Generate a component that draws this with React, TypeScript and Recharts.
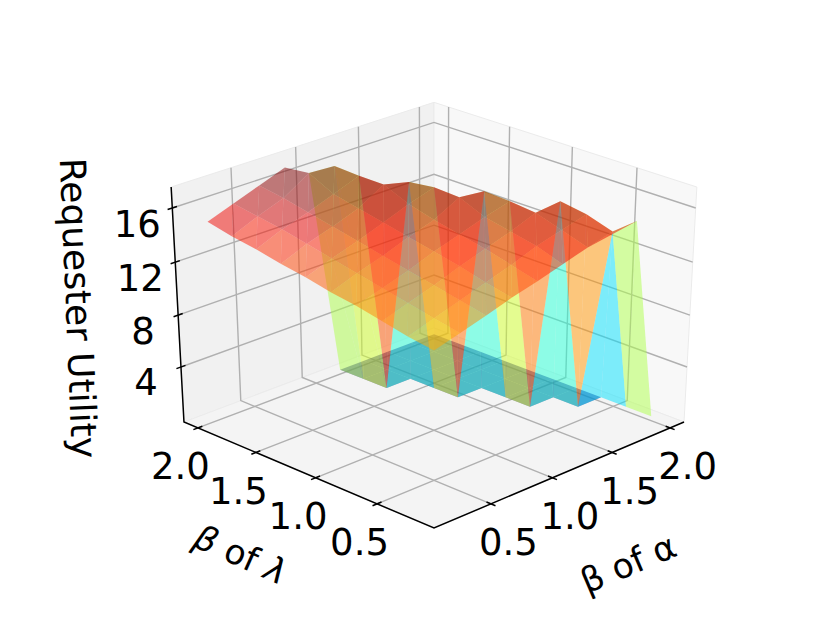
import React from 'react';
import { ScatterChart, Scatter, XAxis, YAxis } from 'recharts';

const WIDTH = 830;
const HEIGHT = 623;

const alphaValues = [0.2, 0.4, 0.6, 0.8, 1.0, 1.2, 1.4, 1.6, 1.8, 2.0];
const lambdaValues = [2.0, 1.8, 1.6, 1.4, 1.2, 1.0, 0.8, 0.6, 0.4, 0.2];
// rows follow lambdaValues, columns follow alphaValues
const utility: (number | null)[][] = [
  [14.9, 15.6, 16.3, 17.0, null, 0, 0, 0, 0, 0],
  [14.5, 15.3, 16.0, 17.2, 17.1, 0, 0, 0, 0, 0],
  [14.2, 15.0, 15.6, 16.3, 17.0, 0, 0, 0, 0, 0],
  [13.8, 14.6, 15.2, 15.9, 17.0, 16.55, 0, 0, 0, 0],
  [13.5, 14.2, 14.8, 15.5, 16.2, 16.8, 0, 0, 0, 0],
  [13.1, 13.8, 14.4, 15.1, 15.7, 16.7, 16.5, 0, 0, 0],
  [12.8, 13.4, 14.0, 14.7, 15.3, 15.9, 16.4, 0, 0, 0],
  [12.4, 13.0, 13.6, 14.3, 14.9, 15.5, 16.2, 16.4, 0, 0],
  [12.0, 12.6, 13.2, 13.8, 14.4, 15.1, 15.6, 16.1, null, 0],
  [11.7, 12.25, 12.8, 13.4, 13.9, 14.45, 15.0, 15.5, 15.6, 0],
];
// triangles joining the raised sheet to the low sheet: three [alpha, lambda] corners, then the shade value
type Corner = [number, number];
const bridges: [Corner, Corner, Corner, number][] = [
  [[0.8, 1.8], [1.2, 2.0], [1.2, 1.8], 9.6],
  [[0.8, 1.8], [1.0, 1.8], [1.2, 1.8], 9.6],
  [[1.0, 1.8], [1.2, 1.8], [1.2, 1.6], 10.3],
  [[1.0, 1.8], [1.0, 1.6], [1.2, 1.6], 10.3],
  [[1.0, 1.6], [1.0, 1.4], [1.2, 1.6], 14.0],
  [[1.0, 1.4], [1.2, 1.4], [1.2, 1.6], 14.0],
  [[1.2, 1.4], [1.2, 1.6], [1.4, 1.6], 6.7],
  [[1.2, 1.4], [1.4, 1.6], [1.4, 1.4], 6.7],
  [[1.2, 1.4], [1.2, 1.2], [1.4, 1.4], 10.3],
  [[1.2, 1.2], [1.4, 1.4], [1.4, 1.2], 10.3],
  [[1.2, 1.2], [1.2, 1.0], [1.4, 1.2], 13.6],
  [[1.2, 1.0], [1.4, 1.0], [1.4, 1.2], 13.6],
  [[1.4, 1.0], [1.4, 1.2], [1.6, 1.2], 6.7],
  [[1.4, 1.0], [1.6, 1.2], [1.6, 1.0], 6.7],
  [[1.4, 1.0], [1.4, 0.8], [1.6, 1.0], 10.3],
  [[1.4, 0.8], [1.6, 1.0], [1.6, 0.8], 10.3],
  [[1.4, 0.8], [1.4, 0.6], [1.6, 0.8], 13.4],
  [[1.4, 0.6], [1.6, 0.6], [1.6, 0.8], 13.4],
  [[1.6, 0.6], [1.6, 0.8], [1.8, 0.8], 6.7],
  [[1.6, 0.6], [1.8, 0.8], [1.8, 0.6], 6.7],
  [[1.6, 0.6], [1.6, 0.4], [1.8, 0.6], 12.9],
  [[1.6, 0.4], [1.6, 0.2], [1.8, 0.6], 12.9],
  [[1.6, 0.2], [1.8, 0.6], [2.0, 0.6], 5.9],
  [[1.6, 0.2], [2.0, 0.6], [2.0, 0.4], 5.9],
  [[1.6, 0.2], [1.8, 0.2], [2.0, 0.4], 9.6],
  [[1.8, 0.2], [2.0, 0.4], [2.0, 0.2], 9.6],
  [[1.4, 0.2], [1.6, 0.2], [1.8, 0.2], 15.5],
];

const planarTicks = [0.5, 1.0, 1.5, 2.0];
const utilityTicks = [4, 8, 12, 16];

const AXIS_LO = 0.05;
const AXIS_HI = 2.122;
const Z_LO = -0.346;
const Z_HI = 17.524;
const SHADE_MAX = 17.1;
const SURFACE_SHADE_MAX = 16.6;

const norm = (v: number) => (v - AXIS_LO) / (AXIS_HI - AXIS_LO);
const normZ = (z: number) => (z - Z_LO) / (Z_HI - Z_LO);

// camera fitted to the reference box
const boxToPage = (a: number, b: number, c: number) => {
  const d = 1 + 0.0635 * (a + b) - 0.0519 * c;
  return {
    x: 434 + (265.9 * (a - b)) / d,
    y: (528 - 79.2 * (a + b) - 259.6 * c) / d,
  };
};
const project = (alpha: number, lambda: number, z: number) => boxToPage(norm(alpha), norm(lambda), normZ(z));

const clamp = (v: number) => Math.max(0, Math.min(1, v));
const jet = (t0: number) => {
  const t = clamp(t0);
  const r = t < 0.35 ? 0 : t < 0.66 ? (t - 0.35) / 0.31 : t < 0.89 ? 1 : 1 - ((t - 0.89) / 0.11) * 0.5;
  const g = t < 0.125 ? 0 : t < 0.375 ? (t - 0.125) / 0.25 : t < 0.64 ? 1 : t < 0.91 ? 1 - (t - 0.64) / 0.27 : 0;
  const b = t < 0.11 ? 0.5 + (t / 0.11) * 0.5 : t < 0.34 ? 1 : t < 0.65 ? 1 - (t - 0.34) / 0.31 : 0;
  const h = (v: number) => Math.round(clamp(v) * 255);
  return `rgb(${h(r)},${h(g)},${h(b)})`;
};

const valueAt = ([alpha, lambda]: Corner) =>
  utility[lambdaValues.findIndex((l) => Math.abs(l - lambda) < 1e-6)][alphaValues.findIndex((a) => Math.abs(a - alpha) < 1e-6)];

type Tri = { pts: { x: number; y: number }[]; depth: number; fill: string };
const makeTri = (corners: Corner[], shade?: number): Tri => {
  const zs = corners.map((c) => valueAt(c) as number);
  const avg = zs.reduce((s, v) => s + v, 0) / 3;
  const pts = corners.map((c, i) => project(c[0], c[1], zs[i]));
  const depth =
    corners.reduce((s, c, i) => s + 0.612 * (norm(c[0]) + norm(c[1])) - 0.5 * normZ(zs[i]), 0) / 3;
  return { pts, depth, fill: jet(shade !== undefined ? shade / SHADE_MAX : avg / SURFACE_SHADE_MAX) };
};

const triangles: Tri[] = [];
lambdaValues.slice(0, -1).forEach((l, r) => {
  alphaValues.slice(0, -1).forEach((a, k) => {
    const nextA = alphaValues[k + 1];
    const nextL = lambdaValues[r + 1];
    const vals = [utility[r][k], utility[r][k + 1], utility[r + 1][k], utility[r + 1][k + 1]];
    if (vals.some((v) => v === null)) return;
    const high = vals.filter((v) => (v as number) > 0).length;
    if (high !== 0 && high !== 4) return;
    triangles.push(makeTri([[a, nextL], [nextA, l], [a, l]]));
    triangles.push(makeTri([[a, nextL], [nextA, l], [nextA, nextL]]));
  });
});
bridges.forEach(([p, q, s, shade]) => triangles.push(makeTri([p, q, s], shade)));
triangles.sort((u, v) => v.depth - u.depth);

const polyPoints = (p: any) => p.points.map((q: any) => `${q.x},${q.y}`).join(' ');
const filled = (fill: string, opacity: number, stroke = 'none') => (p: any) => (
  <polygon points={polyPoints(p)} fill={fill} fillOpacity={opacity} stroke={stroke} strokeWidth={1} />
);
const stroked = (stroke: string, width: number) => (p: any) => (
  <polyline points={polyPoints(p)} fill="none" stroke={stroke} strokeWidth={width} />
);
const noMark = () => <g />;

const FONT = '"DejaVu Sans"';
const TICK_SIZE = 37;
const LABEL_SIZE = 36;
const textMark = (label: React.ReactNode, size: number, rotate = 0) => (p: any) => (
  <text
    x={p.cx}
    y={p.cy + size * 0.365}
    textAnchor="middle"
    fontFamily={FONT}
    fontSize={size}
    fill="#000"
    transform={rotate ? `rotate(${rotate} ${p.cx} ${p.cy})` : undefined}
  >
    {label}
  </text>
);

const boxPt = (a: number, b: number, c: number) => boxToPage(a, b, c);
const panes = [
  { pts: [boxPt(0, 1, 0), boxPt(1, 1, 0), boxPt(1, 1, 1), boxPt(0, 1, 1)], fill: '#f1f1f1' },
  { pts: [boxPt(1, 0, 0), boxPt(1, 1, 0), boxPt(1, 1, 1), boxPt(1, 0, 1)], fill: '#f8f8f8' },
  { pts: [boxPt(0, 0, 0), boxPt(1, 0, 0), boxPt(1, 1, 0), boxPt(0, 1, 0)], fill: '#f4f4f4' },
];

const gridLines: { x: number; y: number }[][] = [];
planarTicks.forEach((t) => {
  gridLines.push([project(t, AXIS_LO, Z_LO), project(t, AXIS_HI, Z_LO), project(t, AXIS_HI, Z_HI)]);
  gridLines.push([project(AXIS_LO, t, Z_LO), project(AXIS_HI, t, Z_LO), project(AXIS_HI, t, Z_HI)]);
});
utilityTicks.forEach((t) => {
  gridLines.push([project(AXIS_LO, AXIS_HI, t), project(AXIS_HI, AXIS_HI, t), project(AXIS_HI, AXIS_LO, t)]);
});

const axisLines = [
  [boxPt(0, 1, 1), boxPt(0, 1, 0), boxPt(0, 0, 0), boxPt(1, 0, 0)],
  ...planarTicks.map((t) => [project(t, AXIS_LO - 0.035, Z_LO), project(t, AXIS_LO + 0.035, Z_LO)]),
  ...planarTicks.map((t) => [project(AXIS_LO - 0.035, t, Z_LO), project(AXIS_LO + 0.035, t, Z_LO)]),
  ...utilityTicks.map((t) => [project(AXIS_LO - 0.035, AXIS_HI, t), project(AXIS_LO + 0.035, AXIS_HI, t)]),
];

const at = (p: { x: number; y: number }, dx: number, dy: number) => [{ x: p.x + dx, y: p.y + dy }];

export default function App() {
  return (
    <div style={{ position: 'absolute', left: 0, top: 0, width: WIDTH, height: HEIGHT, background: '#fff' }}>
      <ScatterChart width={WIDTH} height={HEIGHT} margin={{ top: 0, right: 0, bottom: 0, left: 0 }}>
        <XAxis type="number" dataKey="x" domain={[0, WIDTH]} hide />
        <YAxis type="number" dataKey="y" domain={[0, HEIGHT]} reversed hide />
        {panes.map((p, i) => (
          <Scatter key={`pane${i}`} data={p.pts} shape={noMark} line={filled(p.fill, 1, '#ebebeb')} isAnimationActive={false} />
        ))}
        {gridLines.map((pts, i) => (
          <Scatter key={`grid${i}`} data={pts} shape={noMark} line={stroked('#b0b0b0', 1.4)} isAnimationActive={false} />
        ))}
        {axisLines.map((pts, i) => (
          <Scatter key={`axis${i}`} data={pts} shape={noMark} line={stroked('#000', 1.5)} isAnimationActive={false} />
        ))}
        {triangles.map((t, i) => (
          <Scatter key={`tri${i}`} data={t.pts} shape={noMark} line={filled(t.fill, 0.5)} isAnimationActive={false} />
        ))}
        {planarTicks.map((t) => (
          <Scatter
            key={`lt${t}`}
            data={at(project(AXIS_LO, t, Z_LO), -17.5, 38)}
            shape={textMark(t.toFixed(1), TICK_SIZE)}
            isAnimationActive={false}
          />
        ))}
        {planarTicks.map((t) => (
          <Scatter
            key={`at${t}`}
            data={at(project(t, AXIS_LO, Z_LO), 17.5, 38)}
            shape={textMark(t.toFixed(1), TICK_SIZE)}
            isAnimationActive={false}
          />
        ))}
        {utilityTicks.map((t) => (
          <Scatter
            key={`zt${t}`}
            data={at(project(AXIS_LO, AXIS_HI, t), -35, 15)}
            shape={textMark(String(t), TICK_SIZE)}
            isAnimationActive={false}
          />
        ))}
        <Scatter
          data={[{ x: 628, y: 563 }]}
          shape={textMark('β of α', 34.5, -23)}
          isAnimationActive={false}
        />
        <Scatter
          data={[{ x: 241, y: 554 }]}
          shape={textMark(
            <>
              <tspan fontStyle="italic">β</tspan> of <tspan fontStyle="italic">λ</tspan>
            </>,
            34.5,
            24,
          )}
          isAnimationActive={false}
        />
        <Scatter
          data={[{ x: 79, y: 308 }]}
          shape={textMark('Requester Utility', LABEL_SIZE, 87.7)}
          isAnimationActive={false}
        />
      </ScatterChart>
    </div>
  );
}
